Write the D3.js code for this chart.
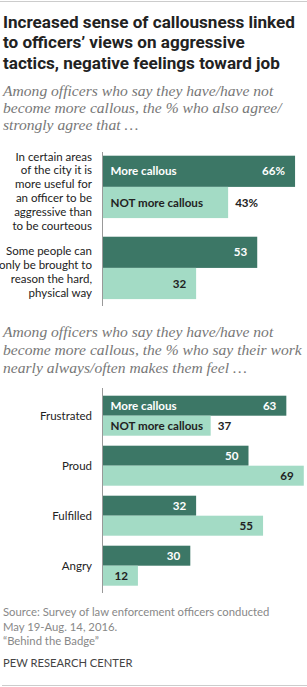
<!DOCTYPE html>
<html>
<head>
<meta charset="utf-8">
<script src="https://cdn.jsdelivr.net/npm/d3@7"></script>
<style>
  body { margin: 0; background: #fff; }
  svg { display: block; }
</style>
</head>
<body>
<div id="chart"></div>
<script>
// data
var labels1 = [
    ['In certain areas', 'of the city it is', 'more useful for', 'an officer to be', 'aggressive than', 'to be courteous'],
    ['Some people can', 'only be brought to', 'reason the hard,', 'physical way']
]
var moreCallous1 = [66, 53]
var notMoreCallous1 = [43, 32]

var labels2 = ['Frustrated', 'Proud', 'Fulfilled', 'Angry']
var moreCallous2 = [63, 50, 32, 30]
var notMoreCallous2 = [37, 69, 55, 12]

var seriesNames = ['More callous', 'NOT more callous']

var width = 307,
    height = 687,
    dark = '#3c7766',
    light = '#a3dbc5',
    sans = 'Lato, sans-serif',
    serif = '"Liberation Serif", serif'

var svg = d3.select('#chart')
    .append('svg')
    .attr('width', width)
    .attr('height', height)

// rules top and bottom
svg.append('line').attr('x1', 0).attr('x2', width).attr('y1', 1.5).attr('y2', 1.5)
    .attr('stroke', '#ccc').attr('stroke-width', 1)
svg.append('line').attr('x1', 2).attr('x2', width).attr('y1', 685.5).attr('y2', 685.5)
    .attr('stroke', '#ccc').attr('stroke-width', 1)

// title
var title = ['Increased sense of callousness linked', 'to officers\u2019 views on aggressive', 'tactics, negative feelings toward job']
svg.append('g').selectAll('text')
    .data(title)
    .enter()
    .append('text')
    .attr('x', 3)
    .attr('y', (d, i) => 28 + i * 20.3)
    .style('font-family', 'Roboto, sans-serif')
    .style('font-weight', 'bold')
    .style('font-size', '17.1px')
    .style('fill', '#222')
    .text(d => d)

function subtitle(lines, y0, step) {
    svg.append('g').selectAll('text')
        .data(lines)
        .enter()
        .append('text')
        .attr('x', 3)
        .attr('y', (d, i) => y0 + i * step)
        .style('font-family', serif)
        .style('font-style', 'italic')
        .style('font-size', '15.6px')
        .style('fill', '#777')
        .text(d => d)
}

subtitle(['Among officers who say they have/have not', 'become more callous, the % who also agree/', 'strongly agree that \u2026'], 96, 17)
subtitle(['Among officers who say they have/have not', 'become more callous, the % who say their work', 'nearly always/often makes them feel \u2026'], 337, 17.8)

// shared x scale
var xscale = d3.scaleLinear()
    .domain([0, 100])
    .range([103, 394])

function drawChart(opts) {
    var g = svg.append('g')
    var idx = d3.range(opts.more.length)

    var yscale = d3.scaleBand()
        .domain(idx)
        .range(opts.range)
        .paddingInner(opts.pad)

    var sub = d3.scaleBand()
        .domain([0, 1])
        .range([0, yscale.bandwidth()])

    var rows = []
    idx.forEach(i => {
        rows.push({ group: i, s: 0, v: opts.more[i] })
        rows.push({ group: i, s: 1, v: opts.notMore[i] })
    })

    g.selectAll('rect')
        .data(rows)
        .enter()
        .append('rect')
        .attr('x', xscale(0))
        .attr('y', d => yscale(d.group) + sub(d.s))
        .attr('width', d => xscale(d.v) - xscale(0))
        .attr('height', sub.bandwidth())
        .attr('fill', d => d.s == 0 ? dark : light)

    // axis line
    g.append('line')
        .attr('x1', xscale(0) - 0.5).attr('x2', xscale(0) - 0.5)
        .attr('y1', opts.axis[0]).attr('y2', opts.axis[1])
        .attr('stroke', '#999')

    // series names in first group
    g.selectAll('.sname')
        .data(seriesNames)
        .enter()
        .append('text')
        .attr('class', 'sname')
        .attr('x', xscale(0) + 7.5)
        .attr('y', (d, i) => yscale(0) + sub(i) + sub.bandwidth() / 2)
        .attr('dy', '0.36em')
        .style('font-family', sans)
        .style('font-weight', 'bold')
        .style('font-size', '11.6px')
        .style('fill', (d, i) => i == 0 ? '#fff' : '#222')
        .text(d => d)

    // values
    g.selectAll('.val')
        .data(rows)
        .enter()
        .append('text')
        .attr('class', 'val')
        .attr('x', d => {
            var out = d.group == 0 && d.s == 1
            return out ? xscale(d.v) + 7 : xscale(d.v) - 10
        })
        .attr('y', d => yscale(d.group) + sub(d.s) + sub.bandwidth() / 2)
        .attr('dy', '0.36em')
        .attr('text-anchor', d => d.group == 0 && d.s == 1 ? 'start' : 'end')
        .style('font-family', sans)
        .style('font-weight', 'bold')
        .style('font-size', '11.6px')
        .style('fill', d => d.s == 0 ? '#fff' : '#222')
        .text(d => d.v + (d.group == 0 && opts.pct ? '%' : ''))

    // category labels
    var cat = g.selectAll('.cat')
        .data(opts.labels)
        .enter()
        .append('text')
        .attr('class', 'cat')
        .attr('text-anchor', 'end')
        .style('font-family', sans)
        .style('font-size', '11.5px')
        .style('fill', '#222')

    cat.each(function (d, i) {
        var lines = Array.isArray(d) ? d : [d]
        var mid = yscale(i) + yscale.bandwidth() / 2 + opts.shift
        var top = mid - (lines.length - 1) * opts.lh / 2
        d3.select(this).selectAll('tspan')
            .data(lines)
            .enter()
            .append('tspan')
            .attr('x', 92)
            .attr('y', (l, j) => top + j * opts.lh)
            .attr('dy', '0.36em')
            .text(l => l)
    })
}

drawChart({
    labels: labels1, more: moreCallous1, notMore: notMoreCallous1,
    range: [155.7, 299.1], pad: 0.23, axis: [152, 306], lh: 13.8, shift: 4, pct: true
})

drawChart({
    labels: labels2, more: moreCallous2, notMore: notMoreCallous2,
    range: [395.7, 585.7], pad: 0.2, axis: [388, 593], lh: 14, shift: 0, pct: false
})

// footer
var notes = ['Source: Survey of law enforcement officers conducted', 'May 19-Aug. 14, 2016.', '\u201cBehind the Badge\u201d']
svg.append('g').selectAll('text')
    .data(notes)
    .enter()
    .append('text')
    .attr('x', 3)
    .attr('y', (d, i) => 616 + i * 14.5)
    .style('font-family', sans)
    .style('font-size', '11.3px')
    .style('fill', '#888')
    .text(d => d)

svg.append('text')
    .attr('x', 3)
    .attr('y', 666.5)
    .style('font-family', sans)
    .style('font-size', '11.2px')
    .style('fill', '#444')
    .text('PEW RESEARCH CENTER')
</script>
</body>
</html>
